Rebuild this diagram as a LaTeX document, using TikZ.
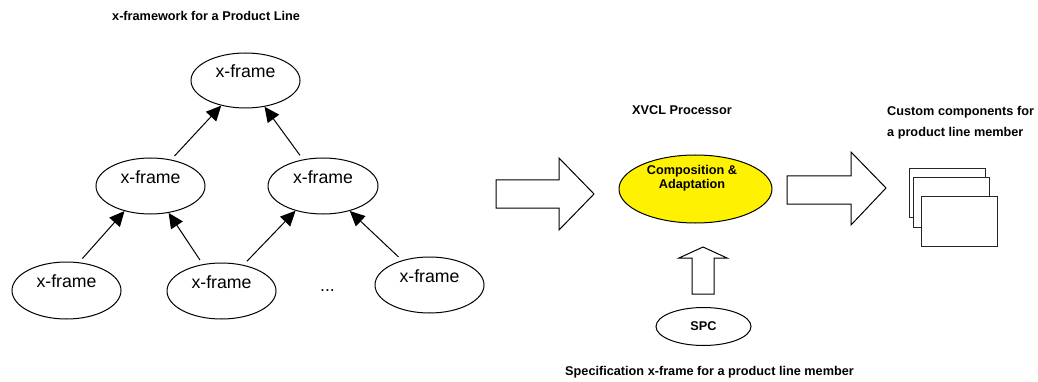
\documentclass[tikz,border=0pt]{standalone}
\usepackage{fontspec}
\setmainfont{Liberation Sans}
\usetikzlibrary{shapes.geometric,arrows.meta}

\tikzset{
  frame/.style={ellipse, draw, line width=1pt, inner sep=0pt,
    minimum width=109pt, minimum height=56pt,
    font=\fontsize{17.7}{20}\selectfont, text height=12pt, text depth=18pt},
  caption/.style={inner sep=0pt, font=\fontsize{12.7}{14}\selectfont\bfseries},
  link/.style={line width=1pt, -{Triangle[length=15pt,width=14pt]}, shorten <=5pt},
  blockarrow/.style={draw, line width=1pt, fill=white, line join=miter},
  sheet/.style={draw=black!85, line width=1pt, fill=white},
}

\begin{document}
\begin{tikzpicture}[x=1pt, y=-1pt]
\useasboundingbox (0,0) rectangle (1038,382);

% framework hierarchy
\node[caption, anchor=west] (fwtitle) at (112,16) {x-framework for a Product Line};

\node[frame, minimum height=55pt] (top) at (245.5,80.5) {x-frame};
\node[frame] (midL) at (150.5,186) {x-frame};
\node[frame, minimum width=110pt] (midR) at (323,186) {x-frame};
\node[frame, minimum height=57pt] (botL) at (66.5,290.5) {x-frame};
\node[frame] (botM) at (221.5,291) {x-frame};
\node[frame] (botR) at (429.5,285) {x-frame};
\node[inner sep=0pt, anchor=base, font=\fontsize{17.7}{20}\selectfont] (dots) at (327.5,291) {...};

\draw[link] (midL.52)  -- (top.226);
\draw[link] (midR.127) -- (top.306);
\draw[link] (botL.66)  -- (midL.224);
\draw[link] (botM.125) -- (midL.304);
\draw[link] (botM.50)  -- (midR.222);
\draw[link] (botR.138) -- (midR.317);

% block arrow into the processor
\draw[blockarrow] (496,180) -- (559,180) -- (559,158) -- (594,194) -- (559,230)
  -- (559,208) -- (496,208) -- cycle;

% XVCL processor
\node[caption] (proctitle) at (682,110.5) {XVCL Processor};
\node[ellipse, draw, line width=1pt, fill=yellow, inner sep=0pt,
  minimum width=153pt, minimum height=68pt] (proc) at (695.5,189) {};
\node[caption, align=center] (proctext) at (692,178.5) {Composition \&\\Adaptation};

% specification feeding the processor
\draw[blockarrow] (703,247) -- (727,258) -- (714,258) -- (714,294) -- (692,294)
  -- (692,258) -- (679,258) -- cycle;
\node[ellipse, draw, line width=1pt, inner sep=0pt,
  minimum width=95pt, minimum height=38pt, caption] (spc) at (703.5,326.5) {SPC};
\node[caption, anchor=west] (spctitle) at (565,372.5)
  {Specification x-frame for a product line member};

% block arrow out of the processor
\draw[blockarrow] (787,176) -- (851,176) -- (851,152) -- (886,188) -- (851,225)
  -- (851,204) -- (787,204) -- cycle;

% generated components
\node[caption, anchor=west] (out1) at (887,112) {Custom components for};
\node[caption, anchor=west] (out2) at (887,133) {a product line member};
\draw[sheet] (909,169) rectangle (985,217);
\draw[sheet] (913,178) rectangle (989,227);
\draw[sheet] (921,197) rectangle (997,246);
\end{tikzpicture}
\end{document}
